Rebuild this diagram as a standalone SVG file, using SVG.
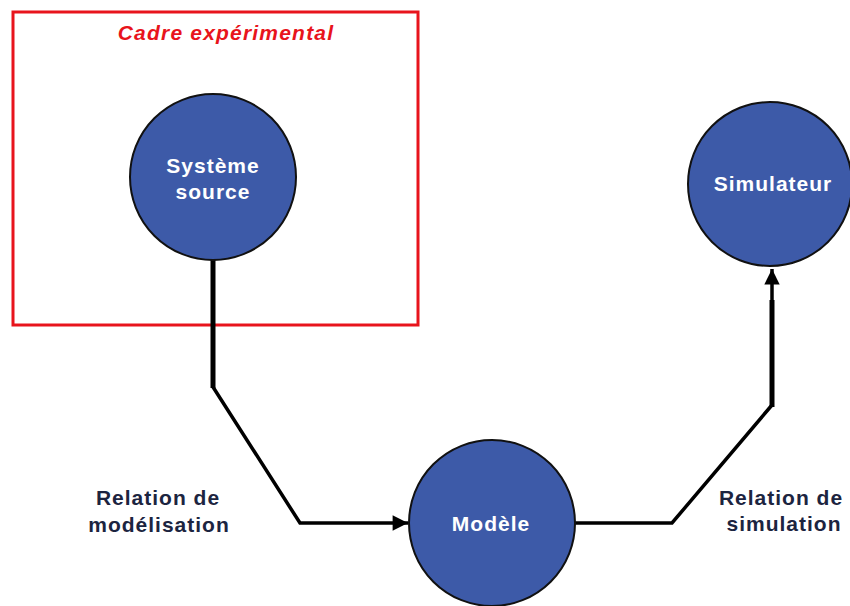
<svg xmlns="http://www.w3.org/2000/svg" width="850" height="606" viewBox="0 0 850 606">
<style>
.node{fill:#3d5aa8;stroke:#111;stroke-width:2}
.nt{font-family:"Liberation Sans",Arial,sans-serif;font-weight:bold;font-size:21px;fill:#fff;text-anchor:middle;letter-spacing:1px}
.lbl{font-family:"Liberation Sans",Arial,sans-serif;font-weight:bold;font-size:21px;fill:#1c2440;text-anchor:middle;letter-spacing:1px}
.edge{fill:none;stroke:#000;stroke-width:3.5;stroke-linejoin:miter}
.thick{fill:none;stroke:#000;stroke-width:5}
</style>
<defs>
<marker id="arr" viewBox="0 0 10 10" refX="10" refY="5" markerWidth="5" markerHeight="4.4" orient="auto" markerUnits="strokeWidth">
<path d="M0,0 L10,5 L0,10 z" fill="#000"/>
</marker>
</defs>
<rect width="850" height="606" fill="#fff"/>
<g id="cadre">
<rect x="13" y="12" width="405" height="313" fill="none" stroke="#e8141c" stroke-width="3"/>
<text x="226" y="40" font-family="'Liberation Sans',Arial,sans-serif" font-weight="bold" font-style="italic" font-size="21" fill="#e8141c" text-anchor="middle" letter-spacing="1.2">Cadre expérimental</text>
</g>
<g id="connectors">
<path class="thick" d="M213,260 L213,388"/>
<path class="edge" d="M213,387 L300,523 L408,523" marker-end="url(#arr)"/>
<path class="edge" d="M575,523 L672,523 L772,405"/>
<path class="thick" d="M772,407 L772,300"/>
<path class="edge" d="M772,302 L772,269" marker-end="url(#arr)"/>
</g>
<g id="systeme-source">
<circle class="node" cx="213" cy="177" r="83"/>
<text class="nt" x="213" y="173">Système</text>
<text class="nt" x="213" y="199">source</text>
</g>
<g id="simulateur">
<circle class="node" cx="770" cy="184" r="82"/>
<text class="nt" x="773" y="191">Simulateur</text>
</g>
<g id="modele">
<circle class="node" cx="492" cy="523" r="83"/>
<text class="nt" x="491" y="531">Modèle</text>
</g>
<g id="labels">
<text class="lbl" x="158" y="505">Relation de</text>
<text class="lbl" x="159" y="532">modélisation</text>
<text class="lbl" x="781" y="505">Relation de</text>
<text class="lbl" x="784" y="531">simulation</text>
</g>
</svg>
